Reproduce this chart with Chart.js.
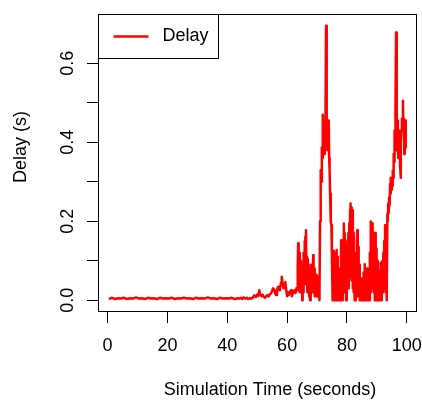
<!DOCTYPE html>
<html>
<head>
<meta charset="utf-8">
<script src="https://cdn.jsdelivr.net/npm/chart.js@4.4.1/dist/chart.umd.min.js"></script>
<style>
html,body{margin:0;padding:0;background:#fff;}
#wrap{width:422px;height:402px;}
</style>
</head>
<body>
<div id="wrap"><canvas id="c" width="422" height="402"></canvas></div>
<script>
// ---- data ----
const simTime = [
  // quiet start
  0.7,1.5,2.5,3.5,4.5,5.5,6.5,7.5,8.5,9.5,10.5,11.5,12.5,13.5,14.5,15.5,16.5,17.5,18.5,19.5,
  20.5,21.5,22.5,23.5,24.5,25.5,26.5,27.5,28.5,29.5,30.5,31.5,32.5,33.5,34.5,35.5,36.5,37.5,38.5,39.5,
  40.5,41.5,42.5,43.5,
  // small build-up
  44.0,44.5,45.0,45.5,46.0,46.5,47.0,47.5,48.0,48.5,49.0,49.5,50.0,50.3,50.7,51.0,51.4,51.8,52.2,52.6,
  53.0,53.4,53.8,54.2,54.6,55.0,55.3,55.7,56.0,56.3,56.6,57.0,57.3,57.6,58.0,58.2,58.5,58.8,59.1,59.4,
  59.7,60.0,60.3,60.6,61.0,61.3,61.6,61.9,62.2,62.5,62.8,63.1,
  // first burst
  63.4,63.55,63.7,63.85,64.0,64.15,64.3,64.45,64.6,64.75,64.9,65.05,65.2,65.35,65.5,65.65,65.8,65.95,66.1,66.3,
  66.45,66.6,66.75,66.9,67.05,67.2,67.35,67.5,67.65,67.8,67.95,68.1,68.25,68.4,68.55,68.7,68.85,69.0,69.15,69.3,
  69.45,69.6,69.75,69.9,70.05,70.2,70.35,70.5,70.65,70.8,
  // first big peak
  71.0,71.15,71.3,71.45,71.6,71.75,71.9,72.05,72.2,72.35,72.5,72.65,72.8,73.0,73.15,73.3,73.45,73.6,73.75,73.9,
  74.05,74.2,74.35,74.5,74.65,74.8,74.95,75.1,75.2,
  // oscillating middle
  75.35,75.5,75.65,75.8,75.95,76.1,76.25,76.4,76.55,76.7,76.85,77.0,77.15,77.3,77.45,77.6,77.75,77.9,78.05,78.2,
  78.35,78.5,78.65,78.8,78.95,79.1,79.25,79.4,79.55,79.7,79.85,80.0,80.15,80.3,80.45,80.6,80.75,80.9,81.05,81.2,
  81.35,81.5,81.65,81.8,81.95,82.1,82.25,82.4,82.55,82.7,82.85,83.0,83.15,83.3,83.45,83.6,83.75,83.9,84.05,84.2,
  84.35,84.5,84.65,84.8,84.95,85.1,85.25,85.4,85.55,85.7,85.85,86.0,86.15,86.3,86.45,86.6,86.75,86.9,87.05,87.2,
  87.35,87.5,87.65,87.8,87.95,88.1,88.25,88.4,88.55,88.7,88.85,89.0,89.15,89.3,89.45,89.6,89.75,89.9,90.05,90.2,
  90.35,90.5,90.65,90.8,90.95,91.1,91.25,91.4,91.55,91.7,91.85,92.0,92.15,92.3,92.45,92.6,92.75,92.9,93.05,93.2,
  93.35,
  // final rise
  93.5,93.65,93.8,93.95,94.1,94.25,94.4,94.55,94.7,94.85,95.0,95.15,95.3,95.45,95.6,95.75,95.9,96.05,96.2,96.4,
  96.55,96.7,96.85,97.0,97.15,97.3,97.45,97.6,97.75,97.9,98.05,98.2,98.35,98.5,98.7,98.85,99.0,99.15,99.3,99.45,
  99.6,99.7
];
const delay = [
  0.004,0.006,0.003,0.005,0.004,0.006,0.003,0.005,0.004,0.007,0.004,0.005,0.003,0.006,0.004,0.005,0.003,0.006,0.004,0.005,
  0.004,0.006,0.003,0.005,0.004,0.006,0.004,0.005,0.003,0.006,0.004,0.005,0.004,0.007,0.004,0.005,0.003,0.006,0.004,0.005,
  0.004,0.006,0.003,0.005,
  0.004,0.006,0.003,0.007,0.004,0.006,0.003,0.005,0.004,0.006,0.012,0.008,0.014,0.010,0.025,0.015,0.010,0.014,0.008,0.006,
  0.010,0.013,0.009,0.015,0.017,0.024,0.030,0.026,0.018,0.013,0.026,0.034,0.025,0.030,0.045,0.059,0.040,0.030,0.038,0.046,
  0.025,0.010,0.013,0.020,0.022,0.025,0.010,0.018,0.022,0.025,0.018,0.030,
  0.025,0.090,0.144,0.030,0.120,0.020,0.110,0.040,0.100,0.030,0.080,0.000,0.090,0.020,0.120,0.040,0.150,0.050,0.160,0.177,
  0.040,0.110,0.020,0.105,0.030,0.090,0.010,0.070,0.000,0.060,0.020,0.090,0.030,0.085,0.020,0.114,0.030,0.080,0.010,0.075,
  0.020,0.065,0.010,0.063,0.020,0.060,0.010,0.055,0.020,0.000,
  0.200,0.286,0.330,0.300,0.387,0.360,0.470,0.400,0.440,0.370,0.450,0.390,0.430,0.695,0.420,0.455,0.380,0.450,0.400,0.455,
  0.360,0.330,0.270,0.250,0.200,0.190,0.120,0.050,0.000,
  0.090,0.000,0.125,0.010,0.110,0.000,0.120,0.020,0.127,0.000,0.110,0.010,0.080,0.000,0.070,0.010,0.050,0.000,0.152,0.030,
  0.100,0.000,0.120,0.020,0.194,0.050,0.170,0.020,0.120,0.000,0.090,0.020,0.152,0.040,0.170,0.030,0.194,0.060,0.230,0.245,
  0.080,0.235,0.050,0.228,0.030,0.170,0.020,0.120,0.000,0.070,0.000,0.100,0.010,0.150,0.177,0.020,0.135,0.010,0.090,0.000,
  0.060,0.000,0.030,0.000,0.055,0.000,0.040,0.010,0.070,0.000,0.091,0.010,0.075,0.000,0.060,0.000,0.080,0.010,0.060,0.000,
  0.030,0.000,0.120,0.020,0.199,0.050,0.190,0.030,0.195,0.040,0.170,0.020,0.150,0.000,0.170,0.030,0.130,0.000,0.100,0.010,
  0.050,0.000,0.060,0.000,0.075,0.010,0.095,0.020,0.057,0.000,0.100,0.020,0.120,0.030,0.150,0.040,0.190,0.020,0.100,0.000,
  0.000,
  0.218,0.200,0.245,0.220,0.260,0.240,0.294,0.270,0.310,0.280,0.300,0.290,0.328,0.310,0.370,0.350,0.430,0.400,0.470,0.678,
  0.430,0.380,0.455,0.400,0.360,0.420,0.380,0.430,0.340,0.310,0.400,0.430,0.460,0.440,0.505,0.440,0.460,0.370,0.430,0.455,
  0.400,0.387
];
const seriesName = "Delay";
const xTickValues = [0, 20, 40, 60, 80, 100];
const yTickValues = [0, 0.1, 0.2, 0.3, 0.4, 0.5, 0.6];
const yTickLabels = ["0.0", "", "0.2", "", "0.4", "", "0.6"];
const xTitle = "Simulation Time (seconds)";
const yTitle = "Delay (s)";

const FONT = "'Liberation Sans', Arial, Helvetica, sans-serif";

const points = simTime.map((t, i) => ({x: t, y: delay[i]}));

const framePlugin = {
  id: 'frame',
  afterDraw(chart) {
    const ctx = chart.ctx, a = chart.chartArea;
    ctx.save();
    // plot box
    ctx.strokeStyle = '#000';
    ctx.lineWidth = 1;
    ctx.strokeRect(Math.round(a.left) + 0.5, Math.round(a.top) + 0.5,
                   Math.round(a.right - a.left) - 1, Math.round(a.bottom - a.top) - 1);
    ctx.fillStyle = '#000';
    ctx.font = '18px ' + FONT;
    // y tick labels (rotated like R's default)
    const ys = chart.scales.y;
    ctx.textAlign = 'center';
    ctx.textBaseline = 'alphabetic';
    yTickValues.forEach((v, i) => {
      const lbl = yTickLabels[i];
      if (!lbl) return;
      const py = ys.getPixelForValue(v);
      ctx.save();
      ctx.translate(73, py);
      ctx.rotate(-Math.PI / 2);
      ctx.fillText(lbl, 0, 0);
      ctx.restore();
    });
    // axis titles
    ctx.fillText(xTitle, 270, 395);
    ctx.save();
    ctx.translate(26, 147);
    ctx.rotate(-Math.PI / 2);
    ctx.fillText(yTitle, 0, 0);
    ctx.restore();
    // legend box (top-left inside plot)
    const lx = Math.round(a.left) + 0.5, ly = Math.round(a.top) + 0.5;
    ctx.strokeStyle = '#000';
    ctx.strokeRect(lx, ly, 120, 44);
    const ds = chart.data.datasets[0];
    ctx.strokeStyle = ds.borderColor;
    ctx.lineWidth = ds.borderWidth;
    ctx.beginPath();
    ctx.moveTo(lx + 15, ly + 22);
    ctx.lineTo(lx + 50, ly + 22);
    ctx.stroke();
    ctx.fillStyle = '#000';
    ctx.textAlign = 'left';
    ctx.textBaseline = 'middle';
    ctx.fillText(ds.label, lx + 64, ly + 22);
    ctx.restore();
  }
};

new Chart(document.getElementById('c'), {
  type: 'line',
  data: {
    datasets: [{
      label: seriesName,
      data: points,
      borderColor: '#ff0000',
      borderWidth: 2.5,
      pointRadius: 0,
      tension: 0,
      fill: false,
      borderJoinStyle: 'round',
      borderCapStyle: 'round'
    }]
  },
  options: {
    responsive: false,
    animation: false,
    events: [],
    layout: {padding: {left: 0, top: 14, right: 5, bottom: 0}},
    plugins: {legend: {display: false}, tooltip: {enabled: false}},
    scales: {
      x: {
        type: 'linear',
        min: -3.2, max: 103.4,
        afterBuildTicks: s => { s.ticks = xTickValues.map(v => ({value: v})); },
        afterFit: s => { s.height = 90; s.paddingLeft = 0; s.paddingRight = 0; },
        grid: {display: true, drawOnChartArea: false, drawTicks: true, tickLength: 11, color: '#000', lineWidth: 1},
        border: {display: false},
        ticks: {color: '#000', font: {size: 18, family: FONT}, padding: 12, maxRotation: 0, minRotation: 0,
                callback: v => String(v)},
        title: {display: false}
      },
      y: {
        type: 'linear',
        min: -0.030, max: 0.725,
        afterBuildTicks: s => { s.ticks = yTickValues.map(v => ({value: v})); },
        afterFit: s => { s.width = 98; s.paddingTop = 0; s.paddingBottom = 0; },
        grid: {display: true, drawOnChartArea: false, drawTicks: true, tickLength: 11, color: '#000', lineWidth: 1},
        border: {display: false},
        ticks: {display: false},
        title: {display: false}
      }
    }
  },
  plugins: [framePlugin]
});
</script>
</body>
</html>
